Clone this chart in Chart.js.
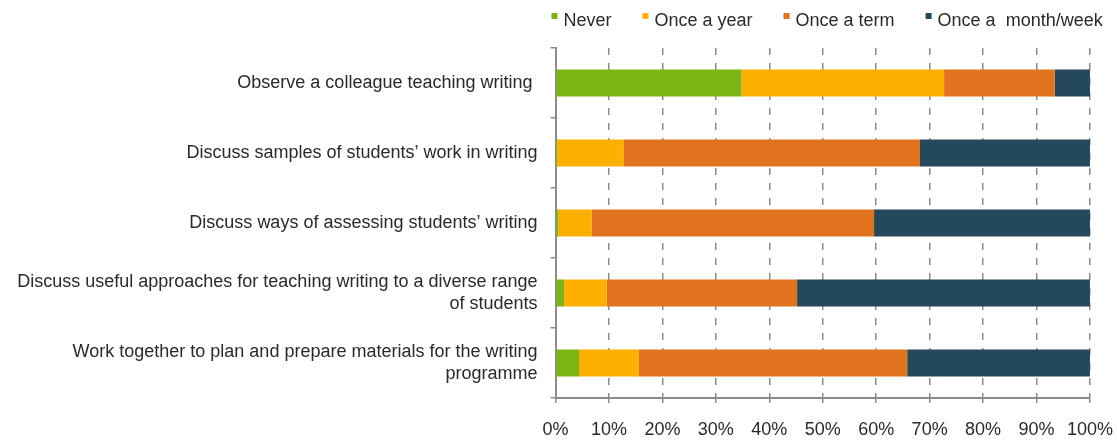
<!DOCTYPE html>
<html>
<head>
<meta charset="utf-8">
<script src="https://cdn.jsdelivr.net/npm/chart.js@4.4.1/dist/chart.umd.min.js"></script>
<style>
  body { margin: 0; background: #fff; }
  #wrap { width: 1117px; height: 441px; position: relative; }
</style>
</head>
<body>
<div id="wrap"><canvas id="activityChart"></canvas></div>
<script>
// activities asked about (top to bottom)
const activities = [
    'Observe a colleague teaching writing ',
    'Discuss samples of students\u2019 work in writing',
    'Discuss ways of assessing students\u2019 writing',
    ['Discuss useful approaches for teaching writing to a diverse range', 'of students'],
    ['Work together to plan and prepare materials for the writing', 'programme']
];

// share of teachers (%) per frequency
const never = [34.8, 0.3, 0.5, 1.6, 4.4];
const onceAYear = [37.9, 12.5, 6.3, 8.0, 11.2];
const onceATerm = [20.7, 55.4, 52.8, 35.6, 50.2];
const monthWeek = [6.6, 31.8, 40.4, 54.8, 34.2];

const seriesNames = ['Never', 'Once a year', 'Once a term', 'Once a  month/week'];
const seriesColors = ['#7db416', '#fdb000', '#e1731f', '#23495a'];

const fontFamily = '"Liberation Sans", Arial, sans-serif';
const textColor = '#2a2a2a';
const axisGrey = '#8c8c8c';

// legend drawn as a single row above the plot, starting at the value axis
const topLegend = {
    id: 'topLegend',
    afterDraw(chart) {
        const ctx = chart.ctx;
        ctx.save();
        ctx.font = '18px ' + fontFamily;
        ctx.textBaseline = 'middle';
        let x = chart.chartArea.left - 4;
        const y = 21;
        chart.data.datasets.forEach(ds => {
            ctx.fillStyle = ds.backgroundColor;
            ctx.fillRect(x, y - 8, 6, 6);
            ctx.fillStyle = textColor;
            ctx.fillText(ds.label, x + 12, y);
            x += 12 + ctx.measureText(ds.label).width + 31;
        });
        ctx.restore();
    }
};

const ctx = document.getElementById('activityChart').getContext('2d');

const chart = new Chart(ctx, {
    type: 'bar',
    data: {
        labels: activities,
        datasets: [never, onceAYear, onceATerm, monthWeek].map((values, i) => ({
            label: seriesNames[i],
            data: values,
            backgroundColor: seriesColors[i],
            borderWidth: 0,
            barPercentage: 0.385,
            categoryPercentage: 1.0
        }))
    },
    options: {
        indexAxis: 'y',
        responsive: true,
        maintainAspectRatio: false,
        animation: false,
        layout: {
            autoPadding: false,
            padding: { top: 48, right: 15, bottom: -16, left: 9 }
        },
        plugins: {
            legend: { display: false },
            tooltip: { enabled: false }
        },
        scales: {
            x: {
                stacked: true,
                min: 0,
                max: 100,
                ticks: {
                    stepSize: 10,
                    padding: 4,
                    color: textColor,
                    // tall line box keeps the percent labels well below the axis
                    font: { family: fontFamily, size: 18, lineHeight: 2.56 },
                    callback: v => v + '%'
                },
                grid: {
                    color: axisGrey,
                    lineWidth: 1.5,
                    tickLength: 5,
                    tickColor: axisGrey
                },
                border: {
                    display: true,
                    color: axisGrey,
                    width: 2,
                    dash: [7, 8]
                }
            },
            y: {
                stacked: true,
                ticks: {
                    padding: 13,
                    color: textColor,
                    font: { family: fontFamily, size: 18 }
                },
                grid: {
                    drawOnChartArea: false,
                    tickLength: 5,
                    tickColor: axisGrey,
                    lineWidth: 1.5
                },
                border: {
                    display: true,
                    color: axisGrey,
                    width: 2
                }
            }
        }
    },
    plugins: [topLegend]
});
</script>
</body>
</html>
